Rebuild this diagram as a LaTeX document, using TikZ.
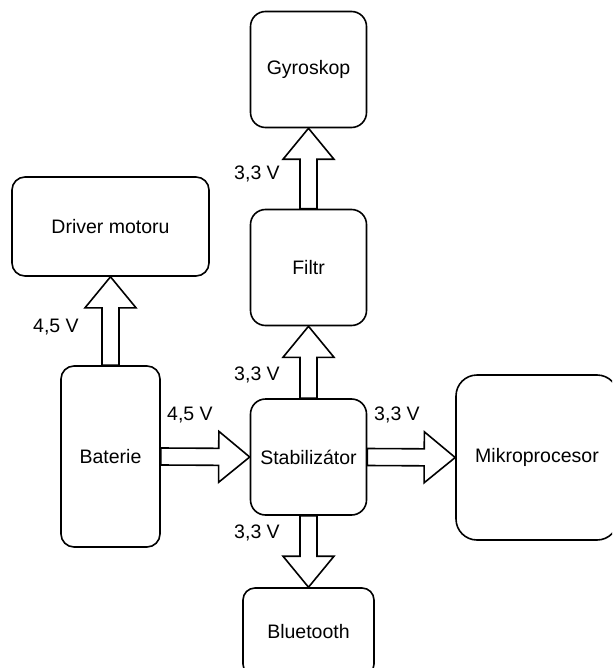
\documentclass[tikz,border=0pt]{standalone}
\usepackage{fontspec}
\setmainfont{Liberation Sans}
\usetikzlibrary{calc}

\tikzset{
  unit/.style={draw=black, line width=1.6pt, fill=white, inner sep=0pt,
    align=center, font=\fontsize{19.5}{23}\selectfont},
  fatarrow/.style={draw=black, line width=1.6pt, fill=white, line join=miter},
  volt/.style={font=\fontsize{19.5}{23}\selectfont, inner sep=0pt}
}

% Hollow block arrow from one anchor to another
\newcommand\fatarrow[2]{%
  \path (#1) coordinate (fa-s) (#2) coordinate (fa-e);
  \path ($(fa-e)!31pt!(fa-s)$) coordinate (fa-h);
  \draw[fatarrow]
    ($(fa-s)!8.5pt!90:(fa-e)$) --
    ($(fa-h)!8.5pt!-90:(fa-s)$) --
    ($(fa-h)!25.5pt!-90:(fa-s)$) --
    (fa-e) --
    ($(fa-h)!25.5pt!90:(fa-s)$) --
    ($(fa-h)!8.5pt!90:(fa-s)$) --
    ($(fa-s)!8.5pt!-90:(fa-e)$) -- cycle;}

\begin{document}
\begin{tikzpicture}[x=1pt, y=-1pt]
  \clip (0,0) rectangle (612,668);

  % blocks
  \node[unit, minimum width=116pt, minimum height=116pt, rounded corners=15pt]
    (gyro) at (308.5,69.5) {Gyroskop};
  \node[unit, minimum width=116pt, minimum height=116pt, rounded corners=15pt]
    (filtr) at (308.5,267.5) {Filtr};
  \node[unit, minimum width=116pt, minimum height=116pt, rounded corners=15pt]
    (stab) at (308.5,457) {Stabilizátor};
  \node[unit, minimum width=197pt, minimum height=99pt, rounded corners=13pt]
    (driver) at (110.5,226.5) {Driver motoru};
  \node[unit, minimum width=99pt, minimum height=181pt, rounded corners=13pt]
    (bat) at (110.5,456.5) {Baterie};
  \node[unit, minimum width=162pt, minimum height=165pt, rounded corners=21pt]
    (mcu) at (537,457.5) {Mikroprocesor};
  \node[unit, minimum width=131pt, minimum height=88pt, rounded corners=12pt]
    (bt) at (308.5,632) {Bluetooth};

  % power connections
  \fatarrow{filtr.north}{gyro.south}
  \fatarrow{stab.north}{filtr.south}
  \fatarrow{bat.north}{driver.south}
  \fatarrow{bat.east}{stab.west}
  \fatarrow{stab.east}{mcu.west}
  \fatarrow{stab.south}{bt.north}

  % voltage labels
  \node[volt] (v1) at (257,174) {3,3 V};
  \node[volt] (v2) at (56,327) {4,5 V};
  \node[volt] (v3) at (257,375) {3,3 V};
  \node[volt] (v4) at (190,415) {4,5 V};
  \node[volt] (v5) at (397,415) {3,3 V};
  \node[volt] (v6) at (257,533) {3,3 V};
\end{tikzpicture}
\end{document}
